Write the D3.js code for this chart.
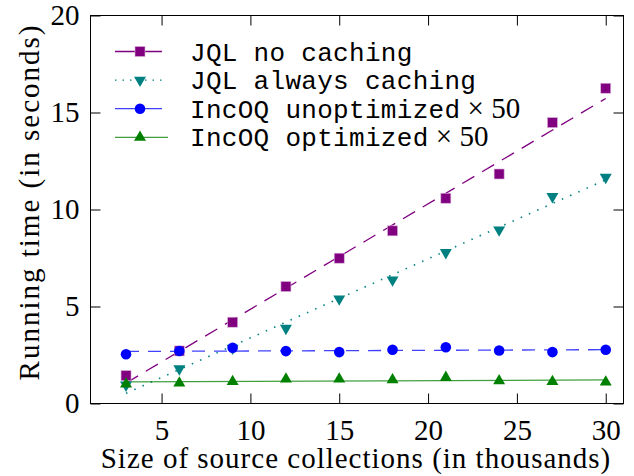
<!DOCTYPE html>
<html>
<head>
<meta charset="utf-8">
<script src="https://cdn.jsdelivr.net/npm/d3@7"></script>
<style>
  body { margin: 0; background: #fff; }
  svg { display: block; }
  .axis path { display: none; }
  .axis line { stroke: #000; stroke-width: 1; }
  .axis text { font-family: "Liberation Serif", "DejaVu Serif", serif; font-size: 29px; fill: #000; }
  .lbl { font-family: "Liberation Serif", "DejaVu Serif", serif; font-size: 29px; fill: #000; }
  .leg { font-family: "Liberation Mono", "DejaVu Sans Mono", monospace; font-size: 26px; letter-spacing: 0.3px; fill: #000; }
</style>
</head>
<body>
<svg id="chart" width="634" height="476"></svg>
<script>
var SIZES = [3, 6, 9, 12, 15, 18, 21, 24, 27, 30];
var JQL_NO_CACHE = [1.44, 2.71, 4.19, 6.03, 7.49, 8.90, 10.58, 11.83, 14.48, 16.25];
var JQL_CACHE = [0.95, 1.79, 2.85, 3.88, 5.39, 6.37, 7.78, 8.95, 10.67, 11.66];
var INCOQ_UNOPT = [2.54, 2.71, 2.87, 2.70, 2.65, 2.77, 2.90, 2.73, 2.65, 2.77];
var INCOQ_OPT = [1.00, 1.05, 1.13, 1.26, 1.26, 1.22, 1.34, 1.17, 1.13, 1.10];
var X_TICKS = [5, 10, 15, 20, 25, 30];
var Y_TICKS = [0, 5, 10, 15, 20];

var series = [
  { name: 'JQL no caching', times: false, values: JQL_NO_CACHE, color: '#800080', dash: '14,9', marker: 'square' },
  { name: 'JQL always caching', times: false, values: JQL_CACHE, color: '#008080', dash: '1.5,7.5', marker: 'down' },
  { name: 'IncOQ unoptimized', times: true, values: INCOQ_UNOPT, color: '#0000ff', dash: '13,9', marker: 'circle' },
  { name: 'IncOQ optimized', times: true, values: INCOQ_OPT, color: '#008000', dash: null, marker: 'up' }
];

var svg = d3.select('#chart');
var margin = { top: 15.5, right: 10.5, bottom: 72.5, left: 90.5 };
var width = 634 - margin.left - margin.right;
var height = 476 - margin.top - margin.bottom;
var TICK = 10;

var x = d3.scaleLinear().domain([1, 31]).range([0, width]);
var y = d3.scaleLinear().domain([0, 20]).range([height, 0]);

var g = svg.append('g')
    .attr('transform', 'translate(' + margin.left + ',' + margin.top + ')');

// ticks, pointing inward on all four sides
g.append('g').attr('class', 'x axis')
    .attr('transform', 'translate(0,' + height + ')')
    .call(d3.axisBottom(x).tickValues(X_TICKS).tickSizeInner(-TICK).tickPadding(16));
g.append('g').attr('class', 'x axis')
    .call(d3.axisTop(x).tickValues(X_TICKS).tickSizeInner(-TICK).tickFormat(''));
g.append('g').attr('class', 'y axis')
    .call(d3.axisLeft(y).tickValues(Y_TICKS).tickSizeInner(-TICK).tickPadding(11));
g.append('g').attr('class', 'y axis')
    .attr('transform', 'translate(' + width + ',0)')
    .call(d3.axisRight(y).tickValues(Y_TICKS).tickSizeInner(-TICK).tickFormat(''));

// least-squares fit through each series
function fit(vals) {
  var mx = d3.mean(SIZES), my = d3.mean(vals);
  var sxy = d3.sum(SIZES, function(s, i) { return (s - mx) * (vals[i] - my); });
  var sxx = d3.sum(SIZES, function(s) { return (s - mx) * (s - mx); });
  var b = sxy / sxx;
  return function(s) { return my + b * (s - mx); };
}

var line = d3.line().x(function(d) { return x(d[0]); }).y(function(d) { return y(d[1]); });
var first = SIZES[0], last = SIZES[SIZES.length - 1];

function drawMarker(sel, kind, color) {
  if (kind === 'square') {
    sel.append('rect').attr('x', -5).attr('y', -5).attr('width', 10).attr('height', 10)
      .attr('fill', color).attr('stroke', '#d9b3d9').attr('stroke-width', 0.6);
  } else if (kind === 'circle') {
    sel.append('circle').attr('r', 5.3).attr('fill', color);
  } else {
    var sym = d3.symbol().type(d3.symbolTriangle).size(62)();
    sel.append('path').attr('d', sym).attr('fill', color)
      .attr('transform', kind === 'down' ? 'rotate(180)' : null);
  }
}

series.forEach(function(s) {
  var f = fit(s.values);
  g.append('path')
      .attr('d', line([[first, f(first)], [last, f(last)]]))
      .attr('fill', 'none')
      .attr('stroke', s.color)
      .attr('stroke-opacity', s.marker === 'circle' || s.marker === 'up' ? 0.75 : 1)
      .attr('stroke-width', s.marker === 'down' ? 1.6 : 1.3)
      .attr('stroke-dasharray', s.dash);
});

series.forEach(function(s) {
  g.selectAll(null)
      .data(s.values)
    .enter().append('g')
      .attr('transform', function(d, i) { return 'translate(' + x(SIZES[i]) + ',' + y(d) + ')'; })
      .each(function() { drawMarker(d3.select(this), s.marker, s.color); });
});

// frame
g.append('rect').attr('width', width).attr('height', height)
    .attr('fill', 'none').attr('stroke', '#000').attr('stroke-width', 1);

// legend
var legend = svg.append('g').attr('transform', 'translate(115,51.5)');
series.forEach(function(s, i) {
  var row = legend.append('g').attr('transform', 'translate(0,' + (i * 28.6) + ')');
  row.append('line').attr('x1', 0).attr('x2', s.marker === 'up' ? 53 : 47)
      .attr('stroke', s.color).attr('stroke-width', 1.3)
      .attr('stroke-opacity', s.marker === 'circle' || s.marker === 'up' ? 0.75 : 1)
      .attr('stroke-dasharray', s.marker === 'down' ? '1.5,6' : null);
  drawMarker(row.append('g').attr('transform', 'translate(25,0)'), s.marker, s.color);
  var t = row.append('text').attr('class', 'leg').attr('x', 75).attr('dy', '0.35em').text(s.name);
  if (s.times) {
    t.append('tspan').attr('class', 'lbl').style('letter-spacing', '0px')
      .text('\u00a0\u00d7\u00a050');
  }
});

// axis titles
svg.append('text').attr('class', 'lbl')
    .attr('x', 356).attr('y', 468)
    .attr('text-anchor', 'middle')
    .style('letter-spacing', '1px')
    .text('Size of source collections (in thousands)');
svg.append('text').attr('class', 'lbl')
    .attr('transform', 'translate(39,202) rotate(-90)')
    .attr('text-anchor', 'middle')
    .style('letter-spacing', '2px')
    .text('Running time (in seconds)');
</script>
</body>
</html>
